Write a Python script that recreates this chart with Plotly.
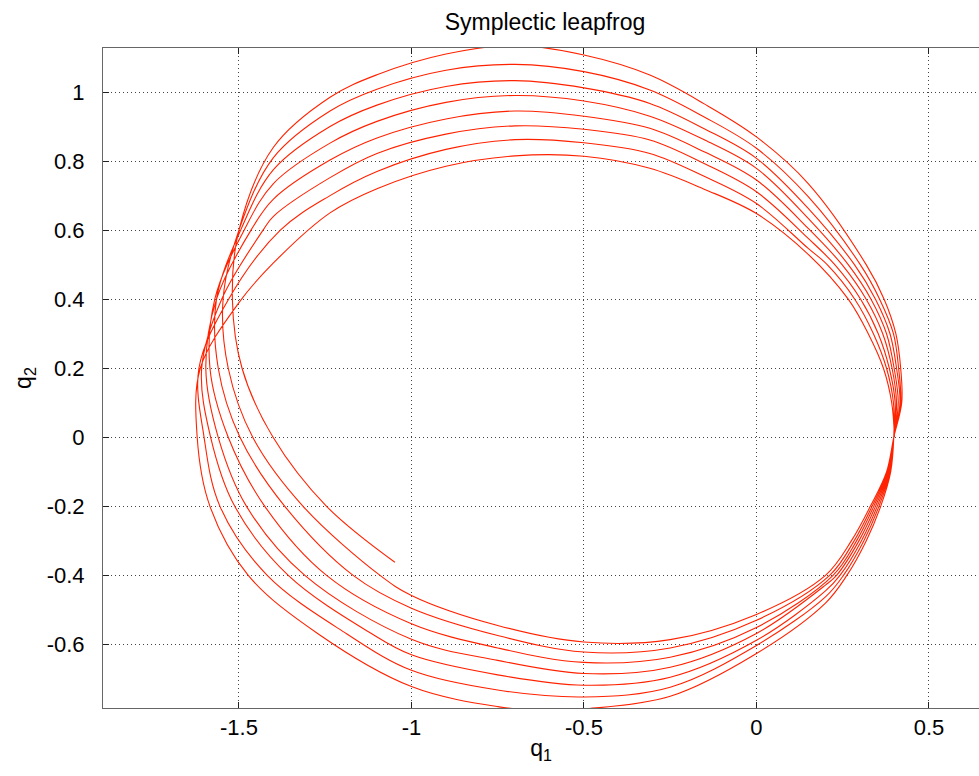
import plotly.graph_objects as go

# ---- data (q1, q2 per revolution) ----
orbit1_q1 = [0.400, 0.392, 0.368, 0.324, 0.266, 0.150, 0.000, -0.150, -0.309, -0.500, -0.700, -0.900, -1.100, -1.236, -1.400, -1.500, -1.612, -1.621, -1.584, -1.473, -1.271, -1.000, -0.750, -0.600, -0.500, -0.250, 0.000, 0.200, 0.262, 0.318, 0.360, 0.389]
orbit1_q2 = [0.000, 0.100, 0.200, 0.300, 0.400, 0.530, 0.648, 0.718, 0.779, 0.814, 0.815, 0.785, 0.720, 0.650, 0.505, 0.390, 0.200, 0.000, -0.200, -0.400, -0.569, -0.722, -0.780, -0.792, -0.787, -0.750, -0.626, -0.480, -0.400, -0.300, -0.200, -0.100]

orbit2_q1 = [0.398, 0.397, 0.377, 0.339, 0.285, 0.205, 0.150, 0.000, -0.150, -0.309, -0.500, -0.700, -0.900, -1.100, -1.236, -1.380, -1.530, -1.616, -1.601, -1.555, -1.418, -1.188, -1.000, -0.750, -0.500, -0.250, 0.000, 0.200, 0.252, 0.311, 0.355, 0.387]
orbit2_q2 = [0.000, 0.100, 0.200, 0.300, 0.400, 0.500, 0.547, 0.677, 0.755, 0.822, 0.853, 0.862, 0.834, 0.770, 0.700, 0.600, 0.400, 0.200, 0.000, -0.200, -0.400, -0.569, -0.675, -0.732, -0.752, -0.724, -0.603, -0.462, -0.400, -0.300, -0.200, -0.100]

orbit3_q1 = [0.398, 0.402, 0.385, 0.353, 0.302, 0.227, 0.150, 0.000, -0.150, -0.309, -0.500, -0.700, -0.900, -1.100, -1.236, -1.400, -1.430, -1.550, -1.608, -1.582, -1.512, -1.357, -1.115, -1.000, -0.750, -0.500, -0.250, 0.000, 0.200, 0.242, 0.304, 0.350, 0.385]
orbit3_q2 = [0.000, 0.100, 0.200, 0.300, 0.400, 0.500, 0.576, 0.711, 0.792, 0.861, 0.892, 0.902, 0.878, 0.822, 0.752, 0.640, 0.600, 0.400, 0.200, 0.000, -0.200, -0.400, -0.569, -0.630, -0.688, -0.718, -0.695, -0.588, -0.445, -0.400, -0.300, -0.200, -0.100]

orbit4_q1 = [0.398, 0.406, 0.393, 0.366, 0.318, 0.248, 0.150, 0.000, -0.150, -0.309, -0.500, -0.700, -0.900, -1.100, -1.236, -1.400, -1.465, -1.565, -1.596, -1.560, -1.478, -1.309, -1.000, -0.750, -0.500, -0.250, 0.000, 0.200, 0.232, 0.297, 0.345, 0.383]
orbit4_q2 = [0.000, 0.100, 0.200, 0.300, 0.400, 0.500, 0.605, 0.745, 0.826, 0.895, 0.930, 0.945, 0.922, 0.867, 0.803, 0.690, 0.600, 0.400, 0.200, 0.000, -0.200, -0.400, -0.585, -0.646, -0.684, -0.666, -0.568, -0.428, -0.400, -0.300, -0.200, -0.100]

orbit5_q1 = [0.398, 0.411, 0.399, 0.377, 0.332, 0.266, 0.150, 0.000, -0.150, -0.309, -0.500, -0.700, -0.900, -1.100, -1.236, -1.400, -1.485, -1.570, -1.584, -1.531, -1.425, -1.246, -1.000, -0.750, -0.500, -0.250, 0.000, 0.222, 0.290, 0.340, 0.381]
orbit5_q2 = [0.000, 0.100, 0.200, 0.300, 0.400, 0.500, 0.634, 0.779, 0.861, 0.930, 0.974, 0.990, 0.970, 0.915, 0.852, 0.735, 0.600, 0.400, 0.200, 0.000, -0.200, -0.400, -0.540, -0.610, -0.652, -0.637, -0.551, -0.400, -0.300, -0.200, -0.100]

orbit6_q1 = [0.398, 0.416, 0.406, 0.387, 0.345, 0.284, 0.150, 0.000, -0.150, -0.309, -0.500, -0.700, -0.900, -1.100, -1.236, -1.400, -1.495, -1.565, -1.560, -1.497, -1.367, -1.169, -1.000, -0.750, -0.500, -0.250, 0.000, 0.212, 0.283, 0.335, 0.379]
orbit6_q2 = [0.000, 0.100, 0.200, 0.300, 0.400, 0.500, 0.663, 0.808, 0.893, 0.967, 1.012, 1.033, 1.016, 0.962, 0.900, 0.775, 0.600, 0.400, 0.200, 0.000, -0.200, -0.400, -0.495, -0.574, -0.622, -0.610, -0.530, -0.400, -0.300, -0.200, -0.100]

orbit7_q1 = [0.398, 0.418, 0.412, 0.397, 0.357, 0.301, 0.150, 0.000, -0.150, -0.309, -0.500, -0.700, -0.900, -1.100, -1.236, -1.400, -1.500, -1.546, -1.531, -1.460, -1.314, -1.091, -1.000, -0.750, -0.500, -0.250, 0.000, 0.200, 0.275, 0.330, 0.377]
orbit7_q2 = [0.000, 0.100, 0.200, 0.300, 0.400, 0.500, 0.697, 0.837, 0.927, 1.006, 1.059, 1.080, 1.063, 1.008, 0.945, 0.810, 0.600, 0.400, 0.200, 0.000, -0.200, -0.400, -0.458, -0.545, -0.593, -0.586, -0.513, -0.400, -0.300, -0.200, -0.100]

orbit8_q1 = [0.398, 0.421, 0.418, 0.404, 0.370, 0.318, 0.150, 0.000, -0.150, -0.309, -0.500, -0.700, -0.900, -1.100, -1.236, -1.400, -1.500, -1.519, -1.491, -1.401, -1.246, -1.048]
orbit8_q2 = [0.000, 0.100, 0.200, 0.300, 0.400, 0.500, 0.735, 0.870, 0.965, 1.049, 1.107, 1.135, 1.110, 1.050, 0.985, 0.840, 0.600, 0.400, 0.200, 0.000, -0.200, -0.362]

x_tickvals = [-1.5, -1, -0.5, 0, 0.5]
x_ticktext = ["-1.5", "-1", "-0.5", "0", "0.5"]
y_tickvals = [-0.6, -0.4, -0.2, 0, 0.2, 0.4, 0.6, 0.8, 1]
y_ticktext = ["-0.6", "-0.4", "-0.2", "0", "0.2", "0.4", "0.6", "0.8", "1"]

title_text = "Symplectic leapfrog"
x_label = "q<sub>1</sub>"
y_label = "q<sub>2</sub>"

# ---- build the trajectory ----
q1 = (orbit1_q1 + orbit2_q1 + orbit3_q1 + orbit4_q1 +
      orbit5_q1 + orbit6_q1 + orbit7_q1 + orbit8_q1)
q2 = (orbit1_q2 + orbit2_q2 + orbit3_q2 + orbit4_q2 +
      orbit5_q2 + orbit6_q2 + orbit7_q2 + orbit8_q2)

FONT = "Liberation Sans, Arial, Helvetica, sans-serif"

fig = go.Figure()
fig.add_trace(go.Scatter(
    x=q1, y=q2, mode="lines",
    line=dict(color="#ff2200", width=1.1, shape="spline", smoothing=1.0),
    hoverinfo="skip", showlegend=False,
))

axis_common = dict(
    showgrid=True, gridcolor="#444444", griddash="1px,3px", gridwidth=1,
    zeroline=False, showline=True, linecolor="#666666", linewidth=1,
    ticks="inside", ticklen=6, tickcolor="#222222",
    tickfont=dict(family=FONT, size=22, color="black"),
)

fig.update_layout(
    width=979, height=776,
    margin=dict(l=103, r=0, t=48, b=68),
    paper_bgcolor="white", plot_bgcolor="white",
    title=dict(text=title_text, x=545 / 979, xanchor="center",
               y=1 - 22 / 776, yref="container", yanchor="middle",
               font=dict(family=FONT, size=23, color="black")),
    xaxis=dict(range=[-1.894, 0.645], tickvals=x_tickvals, ticktext=x_ticktext,
               mirror="ticks", ticklabelstandoff=0,
               title=dict(text=x_label, standoff=0,
                          font=dict(family=FONT, size=23, color="black")),
               **axis_common),
    yaxis=dict(range=[-0.784, 1.1275], tickvals=y_tickvals, ticktext=y_ticktext,
               mirror=False, ticklabelstandoff=13,
               title=dict(text=y_label, standoff=8,
                          font=dict(family=FONT, size=23, color="black")),
               **axis_common),
)

fig.write_html("out.html")
